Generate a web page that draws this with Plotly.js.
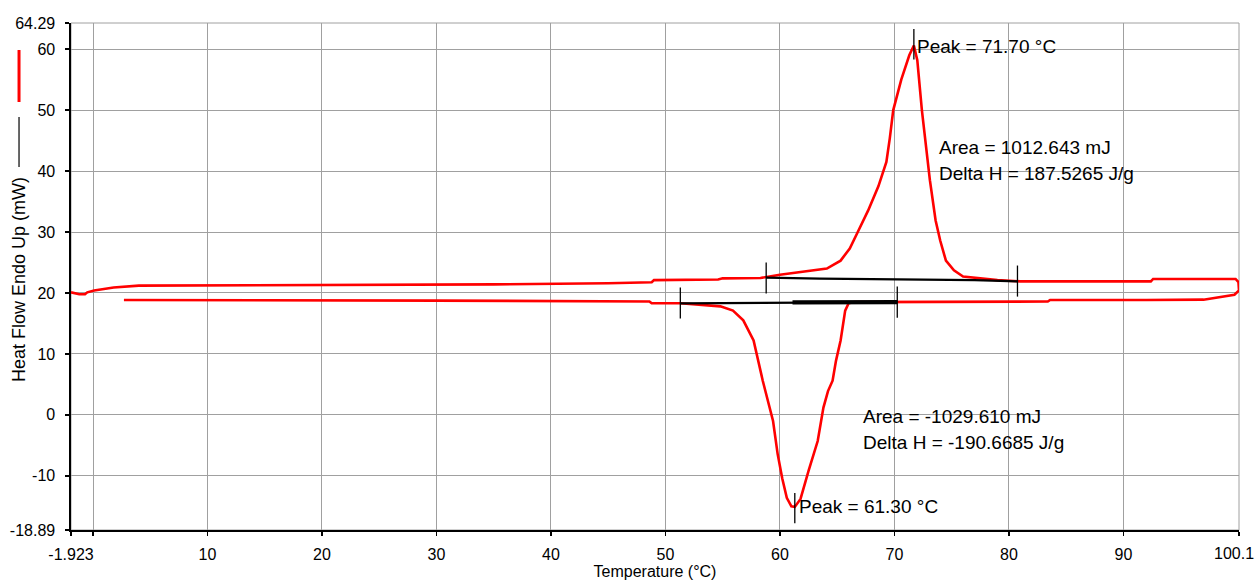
<!DOCTYPE html>
<html>
<head>
<meta charset="utf-8">
<script src="https://cdn.plot.ly/plotly-3.0.1.min.js"></script>
<style>html,body{margin:0;padding:0;background:#fff;}#chart{width:1257px;height:587px;}</style>
</head>
<body>
<div id="chart"></div>
<script>
// Heating segment (temperature °C, heat flow mW)
const heatTemp = [-1.923, -1.2, -0.7, -0.5, 0.1, 1.0, 1.8, 4.0, 20.0, 35.0, 45.0, 48.8, 49.0, 54.6, 55.0, 58.3, 60.0, 61.8, 64.1, 65.3, 66.1, 66.8, 67.7, 68.6, 69.3, 69.6, 69.9, 70.6, 71.3, 71.7, 72.0, 72.4, 72.7, 73.1, 73.6, 74.0, 74.5, 75.2, 76.0, 77.5, 79.0, 81.0, 92.4, 92.6, 99.8, 100.05, 100.1];
const heatFlow = [20.1, 19.8, 19.8, 20.1, 20.4, 20.7, 20.9, 21.2, 21.3, 21.4, 21.6, 21.75, 22.1, 22.2, 22.4, 22.45, 23.0, 23.4, 24.0, 25.3, 27.3, 30.0, 33.5, 37.5, 41.5, 45.4, 50.0, 55.0, 59.0, 60.6, 58.2, 50.0, 45.4, 38.5, 31.9, 28.6, 25.3, 23.7, 22.7, 22.4, 22.1, 21.9, 21.9, 22.3, 22.3, 21.8, 20.4];
// Cooling segment
const coolTemp = [100.1, 99.7, 99.3, 98.4, 97.0, 92.0, 83.6, 83.4, 70.3, 66.5, 66.0, 65.7, 65.3, 64.9, 64.6, 64.2, 63.8, 63.3, 62.5, 61.8, 61.3, 61.0, 60.6, 60.2, 59.8, 59.4, 58.5, 57.7, 56.8, 55.9, 54.8, 52.6, 51.3, 48.8, 48.6, 30.0, 2.7];
const coolFlow = [20.4, 19.7, 19.6, 19.3, 18.9, 18.85, 18.85, 18.6, 18.6, 18.5, 18.3, 17.1, 12.2, 8.9, 5.6, 3.9, 1.2, -4.3, -9.2, -13.8, -15.1, -15.0, -13.6, -10.4, -6.4, -1.0, 5.6, 12.2, 15.5, 17.1, 17.8, 18.1, 18.3, 18.3, 18.6, 18.75, 18.85];
// Integration baselines
const heatBaseTemp = [58.8, 63.5, 77.0, 80.75];
const heatBaseFlow = [22.5, 22.35, 22.1, 21.9];
const coolBaseTemp = [51.3, 70.25];
const coolBaseFlow = [18.3, 18.5];
const coolBaseThickTemp = [61.1, 70.25];
const coolBaseThickFlow = [18.45, 18.5];
// Integration limits (vertical bracket marks)
const limitTemps = [58.8, 80.75, 51.3, 70.25];
const limitTop = [25.0, 24.5, 20.9, 21.05];
const limitBottom = [19.9, 19.4, 15.8, 15.95];
// Peaks
const peakTemps = [71.70, 61.30];
const peakMarkTop = [63.3, -12.8];
const peakMarkBottom = [58.3, -17.8];
// Annotation texts and anchor values
const noteTexts = ["Peak = 71.70 °C", "Area = 1012.643 mJ", "Delta H = 187.5265 J/g", "Area = -1029.610 mJ", "Delta H = -190.6685 J/g", "Peak = 61.30 °C"];
const noteTemps = [71.78, 73.7, 73.7, 67.1, 67.1, 61.5];
const noteFlows = [60.5, 43.9, 39.6, -0.3, -4.6, -15.1];
// Axis ticks (the last x label, at the right edge, is drawn as a right-aligned note so it stays inside the page)
const xTickVals = [-1.923, 0, 10, 20, 30, 40, 50, 60, 70, 80, 90, 100.1];
const xTickText = ["-1.923", "", "10", "20", "30", "40", "50", "60", "70", "80", "90", ""];
const xEdgeLabel = "100.1";
const yTickVals = [-18.89, -10, 0, 10, 20, 30, 40, 50, 60, 64.29];
const yTickText = ["-18.89", "-10", "0", "10", "20", "30", "40", "50", "60", "64.29"];

const FONT = "Liberation Sans, Arial, sans-serif";

function segs(xs, y0s, y1s) {
  const x = [], y = [];
  xs.forEach((v, i) => { x.push(v, v, null); y.push(y0s[i], y1s[i], null); });
  return {x, y};
}
const lim = segs(limitTemps, limitTop, limitBottom);
const pk = segs(peakTemps, peakMarkTop, peakMarkBottom);

const traces = [
  {x: heatTemp.concat(coolTemp), y: heatFlow.concat(coolFlow), mode: 'lines', line: {color: '#ff0000', width: 2.6}, hoverinfo: 'skip'},
  {x: heatBaseTemp, y: heatBaseFlow, mode: 'lines', line: {color: '#000', width: 2.3}},
  {x: coolBaseTemp, y: coolBaseFlow, mode: 'lines', line: {color: '#000', width: 2.3}},
  {x: coolBaseThickTemp, y: coolBaseThickFlow, mode: 'lines', line: {color: '#000', width: 4.2}},
  {x: lim.x, y: lim.y, mode: 'lines', line: {color: '#000', width: 1.3}},
  {x: pk.x, y: pk.y, mode: 'lines', line: {color: '#000', width: 1.3}}
];

const annotations = noteTexts.map((t, i) => ({
  text: t, x: noteTemps[i], y: noteFlows[i], xref: 'x', yref: 'y',
  xanchor: 'left', yanchor: 'middle', showarrow: false,
  font: {family: FONT, size: 19, color: '#000'}
}));
annotations.push({
  text: 'Heat Flow Endo Up (mW)', xref: 'paper', yref: 'paper', x: -0.0445, y: 0.493,
  xanchor: 'center', yanchor: 'middle', textangle: -90, showarrow: false,
  font: {family: FONT, size: 18, color: '#000'}
});
annotations.push({
  text: xEdgeLabel, xref: 'paper', yref: 'paper', x: 1.0145, y: -0.0473,
  xanchor: 'right', yanchor: 'middle', showarrow: false,
  font: {family: FONT, size: 16, color: '#000'}
});

const layout = {
  width: 1257, height: 587,
  margin: {l: 71, r: 18, t: 23, b: 57, pad: 0},
  paper_bgcolor: '#fff', plot_bgcolor: '#fff',
  showlegend: false,
  xaxis: {
    range: [-1.923, 100.1], tickmode: 'array', tickvals: xTickVals, ticktext: xTickText,
    showgrid: true, gridcolor: '#a0a0a0', gridwidth: 1, zeroline: false,
    showline: true, linecolor: '#000', linewidth: 1.6,
    ticks: 'outside', ticklen: 4, tickwidth: 1.5, tickcolor: '#000',
    ticklabelstandoff: 5, ticklabeloverflow: 'allow',
    tickfont: {family: FONT, size: 16, color: '#000'},
    title: {text: 'Temperature (°C)', font: {family: FONT, size: 16, color: '#000'}, standoff: 4}
  },
  yaxis: {
    range: [-18.89, 64.29], tickmode: 'array', tickvals: yTickVals, ticktext: yTickText,
    showgrid: true, gridcolor: '#a0a0a0', gridwidth: 1, zeroline: false,
    showline: true, linecolor: '#000', linewidth: 1.6,
    ticks: 'outside', ticklen: 4, tickwidth: 1.5, tickcolor: '#000',
    ticklabelstandoff: 7, ticklabeloverflow: 'allow',
    tickfont: {family: FONT, size: 16, color: '#000'}
  },
  shapes: [
    {type: 'rect', xref: 'paper', yref: 'paper', x0: 0, x1: 1, y0: 0, y1: 1, line: {color: '#a0a0a0', width: 1}, layer: 'below'},
    {type: 'line', xref: 'paper', yref: 'paper', x0: -0.0445, x1: -0.0445, y0: 0.9467, y1: 0.8442, line: {color: '#ff0000', width: 3}},
    {type: 'line', xref: 'paper', yref: 'paper', x0: -0.0445, x1: -0.0445, y0: 0.8146, y1: 0.716, line: {color: '#000', width: 1.2}}
  ],
  annotations: annotations
};

Plotly.newPlot('chart', traces, layout, {displayModeBar: false, staticPlot: true});
</script>
</body>
</html>
